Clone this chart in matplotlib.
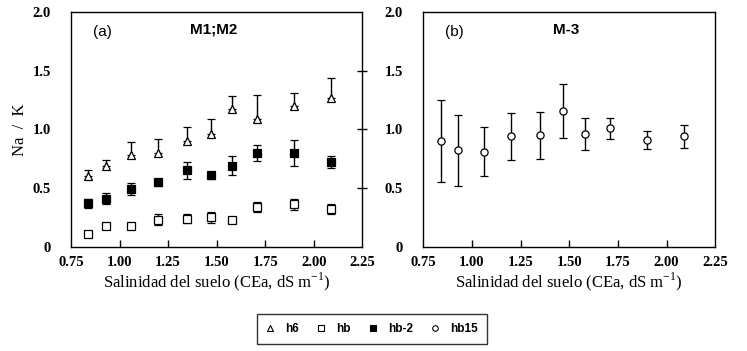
import numpy as np
import matplotlib
matplotlib.use("Agg")
import matplotlib.pyplot as plt
from matplotlib.lines import Line2D

# salinity levels (CEa, dS m-1), same for both panels
cea = [0.84, 0.93, 1.06, 1.20, 1.35, 1.47, 1.58, 1.71, 1.90, 2.09]

# panel (a) M1;M2
h6 = [0.60, 0.69, 0.78, 0.80, 0.90, 0.96, 1.17, 1.09, 1.20, 1.27]
h6_err_up = [0.05, 0.05, 0.11, 0.12, 0.12, 0.13, 0.11, 0.20, 0.11, 0.17]
hb = [0.11, 0.18, 0.18, 0.23, 0.24, 0.25, 0.23, 0.34, 0.36, 0.32]
hb_err = [0.0, 0.0, 0.02, 0.045, 0.04, 0.05, 0.0, 0.04, 0.05, 0.045]
hb2 = [0.37, 0.41, 0.49, 0.55, 0.65, 0.61, 0.69, 0.80, 0.80, 0.72]
hb2_err = [0.04, 0.05, 0.05, 0.03, 0.07, 0.03, 0.08, 0.07, 0.11, 0.05]

# panel (b) M-3
hb15 = [0.90, 0.82, 0.81, 0.94, 0.95, 1.16, 0.96, 1.01, 0.91, 0.94]
hb15_err = [0.35, 0.30, 0.21, 0.20, 0.20, 0.23, 0.14, 0.09, 0.08, 0.10]

xticks = [0.75, 1.00, 1.25, 1.50, 1.75, 2.00, 2.25]
yticks = [0, 0.5, 1.0, 1.5, 2.0]
ytick_labels = ["0", "0.5", "1.0", "1.5", "2.0"]

SERIF = "Liberation Serif"
SANS = "Liberation Sans"

plt.rcParams["mathtext.fontset"] = "custom"
plt.rcParams["mathtext.rm"] = SERIF

fig = plt.figure(figsize=(7.47, 3.51), dpi=100)
ax_a = fig.add_axes([0.095, 0.297, 0.390, 0.669])
ax_b = fig.add_axes([0.5665, 0.297, 0.391, 0.669])

eb_kw = dict(ecolor="black", elinewidth=1.0, capsize=2.6, capthick=1.0,
             linestyle="none", markeredgecolor="black", markeredgewidth=0.9)

ax_a.errorbar(cea, h6, yerr=[np.zeros(len(h6)), h6_err_up], marker="^",
              markersize=5.5, markerfacecolor="white", **eb_kw)
ax_a.errorbar(cea, hb, yerr=hb_err, marker="s", markersize=5.2,
              markerfacecolor="white", **eb_kw)
ax_a.errorbar(cea, hb2, yerr=hb2_err, marker="s", markersize=5.2,
              markerfacecolor="black", **eb_kw)
ax_b.errorbar(cea, hb15, yerr=hb15_err, marker="o", markersize=5.2,
              markerfacecolor="white", **eb_kw)

for ax, tag, title in [(ax_a, "(a)", "M1;M2"), (ax_b, "(b)", "M-3")]:
    ax.set_xlim(0.75, 2.25)
    ax.set_ylim(0, 2.0)
    ax.set_xticks(xticks)
    ax.set_xticklabels([f"{v:.2f}" for v in xticks])
    ax.set_yticks(yticks)
    ax.set_yticklabels(ytick_labels)
    for lab in ax.get_xticklabels() + ax.get_yticklabels():
        lab.set_fontfamily(SERIF)
        lab.set_fontweight("bold")
        lab.set_fontsize(10.5)
    ax.tick_params(axis="x", direction="in", length=5, width=1, pad=7,
                   top=False)
    ax.tick_params(axis="y", left=False, pad=11)
    for sp in ax.spines.values():
        sp.set_linewidth(1.0)
    ax.set_xlabel("Salinidad del suelo (CEa, dS m$^{-1}$)", family=SERIF,
                  fontsize=12, labelpad=0.5)
    ax.text(0.075, 0.915, tag, transform=ax.transAxes, family=SANS,
            fontsize=11, va="center")
    ax.text(0.49, 0.925, title, transform=ax.transAxes, family=SANS,
            fontsize=11, fontweight="bold", ha="center", va="center")
    # hide tick marks sitting on the corners
    ticks_x = ax.xaxis.get_major_ticks()
    ticks_x[0].tick1line.set_visible(False)
    ticks_x[-1].tick1line.set_visible(False)

# left panel has crossing ticks on its right spine
ax_a.tick_params(axis="y", right=True, direction="inout", length=7, width=1)
ax_a.tick_params(axis="y", left=False)
ytk = ax_a.yaxis.get_major_ticks()
ytk[0].tick2line.set_visible(False)
ytk[-1].tick2line.set_visible(False)

ax_a.set_ylabel("Na  /  K", family=SERIF, fontsize=12, labelpad=3.5)

# legend with plain markers
proxy_kw = dict(linestyle="none", markeredgecolor="black", markeredgewidth=0.8)
handles = [
    Line2D([], [], marker="^", markersize=4, markerfacecolor="white", **proxy_kw),
    Line2D([], [], marker="s", markersize=4.5, markerfacecolor="white", **proxy_kw),
    Line2D([], [], marker="s", markersize=4.5, markerfacecolor="black", **proxy_kw),
    Line2D([], [], marker="o", markersize=4, markerfacecolor="white", **proxy_kw),
]
labels = ["h6", "hb", "hb-2", "hb15"]
leg = fig.legend(handles, labels, ncol=4, loc="center",
                 bbox_to_anchor=(0.4975, 0.063), frameon=True, fancybox=False,
                 handlelength=0.8, handletextpad=0.9, columnspacing=1.45,
                 borderpad=0.75, borderaxespad=0,
                 prop={"family": SANS, "weight": "bold", "size": 8.5})
leg.get_frame().set_edgecolor("black")
leg.get_frame().set_linewidth(1.0)

fig.savefig("out.png", dpi=100)
